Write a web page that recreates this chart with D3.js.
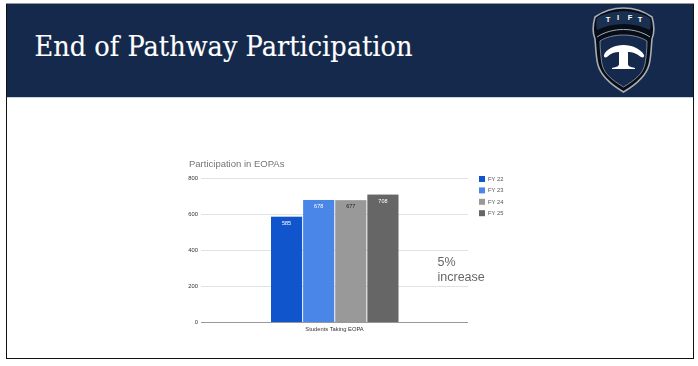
<!DOCTYPE html>
<html><head><meta charset="utf-8">
<script src="https://cdn.jsdelivr.net/npm/d3@7"></script>
<style>html,body{margin:0;padding:0;background:#fff}svg{display:block}</style>
</head><body><div id="c"></div>
<script>
const slideTitle = "End of Pathway Participation";
const chartTitle = "Participation in EOPAs";
const category = "Students Taking EOPA";
const seriesNames = ["FY 22","FY 23","FY 24","FY 25"];
const seriesValues = [585,678,677,708];
const seriesColors = ["#1155cc","#4a86e8","#999999","#666666"];
const labelColors = ["#ffffff","#ffffff","#222222","#ffffff"];
const yTicks = [0,200,400,600,800];
const note = ["5%","increase"];
const logoLetters = ["T","I","F","T"];

const W=698,H=366;
const svg=d3.select("#c").append("svg").attr("width",W).attr("height",H).attr("viewBox",[0,0,W,H]);
const sans="'Liberation Sans', Arial, sans-serif";

// slide frame and header
svg.append("rect").attr("x",6.5).attr("y",3.5).attr("width",687).attr("height",355).attr("fill","#fff");
svg.append("rect").attr("x",6).attr("y",4).attr("width",688).attr("height",93).attr("fill","#14294b");
svg.append("line").attr("x1",6).attr("x2",694).attr("y1",97.5).attr("y2",97.5).attr("stroke","#c9d3e0");
svg.append("rect").attr("x",6.5).attr("y",3.5).attr("width",687).attr("height",355)
  .attr("fill","none").attr("stroke","#111");
svg.append("line").attr("x1",6).attr("x2",694).attr("y1",3.5).attr("y2",3.5).attr("stroke","#999");
svg.append("text").attr("x",34.5).attr("y",56).attr("fill","#fff").attr("stroke","#fff").attr("stroke-width",0.15)
  .attr("font-family","'DejaVu Serif', serif").attr("font-size",27.5)
  .attr("textLength",378).attr("lengthAdjust","spacingAndGlyphs").text(slideTitle);

// logo
const logo=svg.append("g").attr("transform","translate(592,8)");
logo.append("path").attr("d","M3,9 C20,-3 43,-3 60,9 C62,16 63,24 60,31 C59,42 59,50 57,57 C54,68 45,76 31.5,84 C18,76 9,68 6,57 C4,50 4,42 3,31 C0,24 1,16 3,9 Z")
  .attr("fill","#070d18").attr("stroke","#a9adb2").attr("stroke-width",1.6);
logo.append("path").attr("d","M5,22 C4,17 4,13 5,10 C20,1 43,1 58,10 C59,13 59,17 58,22 C42,14 21,14 5,22 Z")
  .attr("fill","#1a3050");
logo.append("path").attr("d","M5,29 C20,19 43,19 58,29").attr("fill","none").attr("stroke","#a9adb2").attr("stroke-width",1);
logo.append("path").attr("d","M8,33 C20,25 43,25 55,33 C55,42 54,50 53,56 C51,66 43,72 31.5,79 C20,72 12,66 10,56 C9,50 8,42 8,33 Z")
  .attr("fill","#14294b").attr("stroke","#c8cacc").attr("stroke-width",0.6);
logo.append("path").attr("d","M12,47 C14,41 23,37 31.5,37 C40,37 49,41 52,47 C52.5,49 51,50 49,49 C44,45 40,44 36,44 L36,56 C36,58 38,59 43,60 L43,61 L20,61 L20,60 C25,59 27,58 27,56 L27,44 C23,44 19,45 15,49 C13,50 11.5,49 12,47 Z")
  .attr("fill","#fff");
logo.selectAll("text.l").data(logoLetters).join("text").attr("class","l")
  .attr("x",(d,i)=>[16,26,38,48][i]).attr("y",(d,i)=>[14,12,12,14][i]).attr("text-anchor","middle")
  .attr("font-family","'Liberation Sans',sans-serif").attr("font-weight","700").attr("font-size",7.5)
  .attr("fill","#fff").text(d=>d);

// chart group: the reference is a soft, scaled-down image of a chart
const chart=svg.append("g").style("filter","blur(0.35px)");
const y=d3.scaleLinear().domain([0,800]).range([322,178]);
const x=d3.scaleBand().domain(seriesNames).range([271,398.5]).paddingInner(0.03).paddingOuter(0);
const plotL=201,plotR=468;

const gy=chart.append("g").attr("transform",`translate(${plotL},0)`)
  .call(d3.axisLeft(y).tickValues(yTicks).tickSize(0).tickPadding(3).tickFormat(d3.format("d")));
gy.select(".domain").remove();
gy.selectAll("text").attr("font-family",sans).attr("font-size",5.8).attr("fill","#333");
gy.selectAll(".tick line").attr("x2",plotR-plotL).attr("stroke",d=>d===0?"#999":"#e2e2e2").attr("stroke-width",1);

chart.selectAll("rect.bar").data(seriesValues).join("rect").attr("class","bar")
  .attr("x",(d,i)=>x(seriesNames[i])).attr("width",x.bandwidth())
  .attr("y",d=>y(d)).attr("height",d=>y(0)-y(d)).attr("fill",(d,i)=>seriesColors[i]);
chart.selectAll("text.val").data(seriesValues).join("text").attr("class","val")
  .attr("x",(d,i)=>x(seriesNames[i])+x.bandwidth()/2).attr("y",d=>y(d)+8)
  .attr("text-anchor","middle").attr("font-family",sans).attr("font-size",5.5)
  .attr("fill",(d,i)=>labelColors[i]).text(d=>d);

chart.append("text").attr("x",334.5).attr("y",330.5).attr("text-anchor","middle")
  .attr("font-family",sans).attr("font-size",5.8).attr("fill","#333").text(category);
chart.append("text").attr("x",189).attr("y",166.5).attr("font-family",sans).attr("font-size",9.5)
  .attr("fill","#757575").text(chartTitle);

// legend
const leg=chart.selectAll("g.leg").data(seriesNames).join("g").attr("class","leg")
  .attr("transform",(d,i)=>`translate(479,${176+i*11.4})`);
leg.append("rect").attr("width",6).attr("height",6).attr("fill",(d,i)=>seriesColors[i]);
leg.append("text").attr("x",9).attr("y",5).attr("font-family",sans).attr("font-size",5.8)
  .attr("fill","#555").text(d=>d);

// annotation
chart.selectAll("text.note").data(note).join("text").attr("class","note")
  .attr("x",437.5).attr("y",(d,i)=>266+i*15).attr("font-family",sans).attr("font-size",12.5)
  .attr("fill","#666").text(d=>d);
</script></body></html>
